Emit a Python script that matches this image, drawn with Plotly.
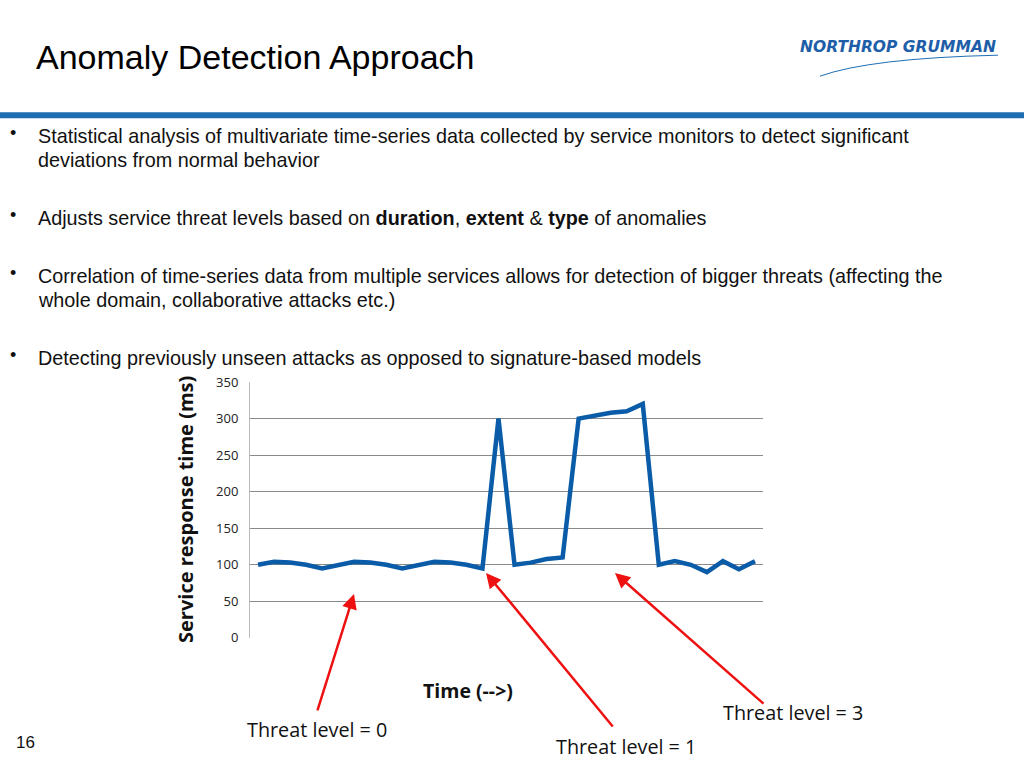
import plotly.graph_objects as go

# service response time samples (ms)
time_idx = list(range(32))
response_ms = [100, 104, 103, 100, 95, 100, 104, 103, 100, 95, 100, 104, 103, 100, 95, 300,
               100, 103, 108, 110, 300, 304, 308, 310, 320, 100, 105, 100, 90, 105, 94, 105]
y_ticks = [0, 50, 100, 150, 200, 250, 300, 350]

W, H = 1024, 768
def px(x): return x / W
# vertical calibration for the page as photographed
def py(y): return 1 - ((y - 8.8) / 0.977) / H

fig = go.Figure()
fig.add_trace(go.Scatter(x=time_idx, y=response_ms, mode="lines",
                         line=dict(color="#0A5CA8", width=4.5), showlegend=False))

fig.update_layout(
    width=W, height=H, margin=dict(l=0, r=0, t=0, b=0),
    paper_bgcolor="white", plot_bgcolor="white",
    font=dict(family="Liberation Sans", color="#111"),
    xaxis=dict(domain=[px(250), px(763)], range=[-0.5, 31.5], showticklabels=False,
               showgrid=False, zeroline=False, showline=False, fixedrange=True),
    yaxis=dict(domain=[py(638), py(382)], range=[0, 350], tickvals=y_ticks,
               gridcolor="#8a8a8a", gridwidth=1, zeroline=False,
               showline=True, linecolor="#bbbbbb", ticks="", ticklabelstandoff=8,
               tickfont=dict(family="Open Sans", size=13, color="#222")),
)

# header bar
fig.add_shape(type="rect", xref="paper", yref="paper", x0=0, x1=1,
              y0=py(118), y1=py(112), fillcolor="#1E6EB4", line_width=0)
# logo swoosh
fig.add_shape(type="path", xref="paper", yref="paper",
              path=f"M {px(820)} {py(76)} Q {px(870)} {py(58)} {px(998)} {py(55)}",
              line=dict(color="#1E6EB4", width=1))

ann = []
def text(x, y, s, size, **kw):
    ann.append(dict(x=px(x), y=py(y), xref="paper", yref="paper", text=s, showarrow=False,
                    xanchor=kw.pop("xanchor", "left"), yanchor=kw.pop("yanchor", "middle"),
                    font=dict(size=size, **kw.pop("font", {})), **kw))

text(34, 57, "Anomaly Detection Approach", 34, font=dict(color="#000"))
text(798, 47, "<b><i>NORTHROP GRUMMAN</i></b>", 15.5, font=dict(color="#1E5EA8", family="DejaVu Sans"))
bullets = [
    (136, "Statistical analysis of multivariate time-series data collected by service monitors to detect significant"),
    (160, "deviations from normal behavior"),
    (218, "Adjusts service threat levels based on <b>duration</b>, <b>extent</b> &amp; <b>type</b> of anomalies"),
    (276, "Correlation of time-series data from multiple services allows for detection of bigger threats (affecting the"),
    (300, "whole domain, collaborative attacks etc.)"),
    (358, "Detecting previously unseen attacks as opposed to signature-based models"),
]
for y, s in bullets:
    text(36, y, s, 19.8)
for y in (133, 215, 273, 355):
    text(8, y, "•", 18)
text(186, 510, "<b>Service response time (ms)</b>", 20, xanchor="center",
     textangle=-90, font=dict(family="Open Sans"))
text(468, 691, "<b>Time (--&gt;)</b>", 19.5, xanchor="center", font=dict(family="Open Sans"))
text(245, 730, "Threat level = 0", 19.8, font=dict(family="Open Sans"))
text(554, 747, "Threat level = 1", 19.8, font=dict(family="Open Sans"))
text(721, 713, "Threat level = 3", 19.8, font=dict(family="Open Sans"))
text(14, 743, "16", 17)

for hx, hy, tx, ty in [(354, 594, 317, 712), (486, 573, 614, 728), (615, 573, 765, 705)]:
    ann.append(dict(x=px(hx), y=py(hy), xref="paper", yref="paper", ax=tx - hx, ay=ty - hy,
                    showarrow=True, arrowhead=2, arrowsize=1.2, arrowwidth=2.5,
                    arrowcolor="#EE1111", text=""))

fig.update_layout(annotations=ann)
fig.write_html("out.html", config={"displayModeBar": False},
               post_script="document.body.style.margin='0';document.body.style.overflow='hidden';")
